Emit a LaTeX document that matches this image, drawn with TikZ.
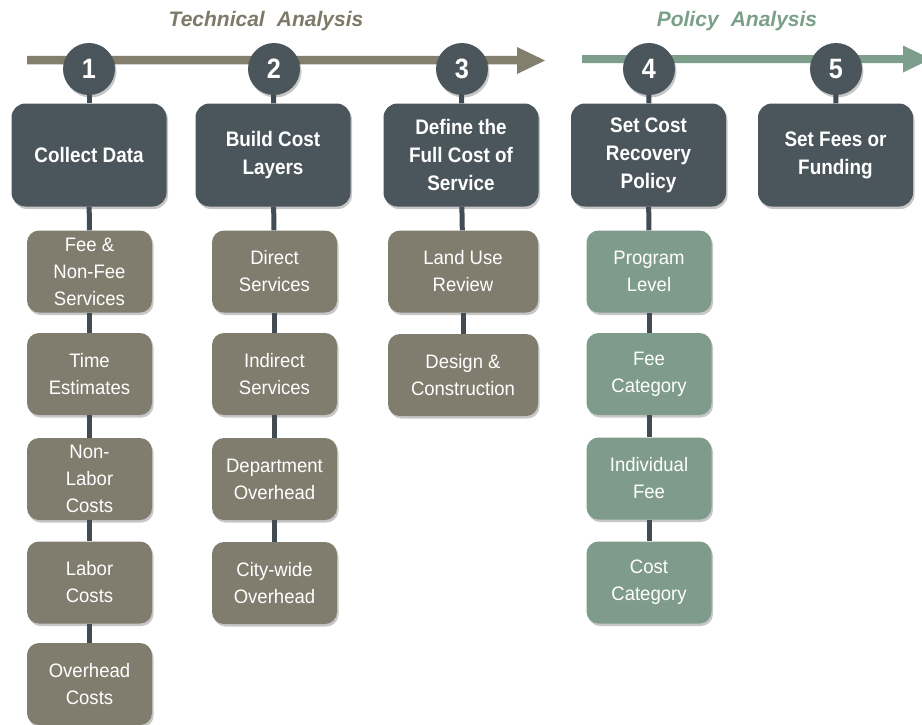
\documentclass[tikz,border=0pt]{standalone}
\usepackage{fontspec}
\setsansfont{Liberation Sans}
\newfontfamily\condsans{Liberation Sans}[FakeStretch=0.9]
\newfontfamily\subsans{Liberation Sans}[FakeStretch=0.95]
\usetikzlibrary{shadows}
\definecolor{dark}{HTML}{4A555C}
\definecolor{subbrown}{HTML}{817D6E}
\definecolor{subgreen}{HTML}{7F9B8B}
\definecolor{arrgray}{HTML}{837E6E}
\definecolor{arrgreen}{HTML}{7D9E8A}
\definecolor{titlebrown}{HTML}{7E7A69}
\definecolor{titlegreen}{HTML}{7AA089}
\definecolor{connc}{HTML}{414C54}
\tikzset{
  softshadow/.style={drop shadow={opacity=0.22, shadow xshift=1.5pt, shadow yshift=-2.5pt, fill=black}},
  mainbox/.style={fill=dark, rounded corners=14pt, minimum width=155pt, minimum height=103pt,
    text=white, align=center, inner sep=0pt, softshadow,
    font=\condsans\bfseries\fontsize{21}{28}\selectfont},
  subbox/.style={rounded corners=12pt, minimum width=125pt, minimum height=82pt,
    text=white, align=center, inner sep=0pt, softshadow,
    font=\subsans\fontsize{19.5}{27}\selectfont},
  brownbox/.style={subbox, fill=subbrown},
  widebrown/.style={brownbox, minimum width=150pt},
  greenbox/.style={subbox, fill=subgreen},
  numcirc/.style={circle, fill=dark, minimum size=52pt, inner sep=0pt, text=white, softshadow,
    font=\condsans\bfseries\fontsize{28}{30}\selectfont},
  conn/.style={draw=connc, line width=5pt},
  titletext/.style={font=\sffamily\bfseries\itshape\fontsize{21}{24}\selectfont, inner sep=0pt}
}
\begin{document}
\begin{tikzpicture}[x=1pt,y=-1pt]
\useasboundingbox (0,0) rectangle (922,724);
\clip (0,0) rectangle (922,724);
\fill[white] (0,0) rectangle (922,724);

% titles
\node[titletext, text=titlebrown] (t1) at (266,21) {Technical\hspace{0.3em} Analysis};
\node[titletext, text=titlegreen] (t2) at (737,21) {Policy\hspace{0.3em} Analysis};

% timeline arrows
\fill[arrgray] (27,55.75) -- (517,55.75) -- (517,47) -- (545,60.5) -- (517,74) -- (517,64.25) -- (27,64.25) -- cycle;
\fill[arrgreen] (582,55) -- (903,55) -- (903,45.5) -- (931,59) -- (903,72.5) -- (903,63) -- (582,63) -- cycle;

% step circles
\node[numcirc] (c1) at (89,69) {1};
\node[numcirc] (c2) at (274,69) {2};
\node[numcirc] (c3) at (462,69) {3};
\node[numcirc] (c4) at (649,69) {4};
\node[numcirc] (c5) at (836,69) {5};

% main boxes
\node[mainbox] (m1) at (89,155) {Collect Data};
\node[mainbox] (m2) at (273,155) {Build Cost\\Layers};
\node[mainbox] (m3) at (461,155) {Define the\\Full Cost of\\Service};
\node[mainbox] (m4) at (648.5,155) {Set Cost\\Recovery\\Policy};
\node[mainbox] (m5) at (835.5,155) {Set Fees or\\Funding};

% column 1
\node[brownbox] (a1) at (89.5,271.5) {Fee \&\\Non-Fee\\Services};
\node[brownbox] (a2) at (89.5,374) {Time\\Estimates};
\node[brownbox] (a3) at (89.5,479) {Non-\\Labor\\Costs};
\node[brownbox] (a4) at (89.5,582.5) {Labor\\Costs};
\node[brownbox] (a5) at (89.5,684) {Overhead\\Costs};

% column 2
\node[brownbox] (b1) at (274.5,271.5) {Direct\\Services};
\node[brownbox] (b2) at (274.5,374) {Indirect\\Services};
\node[brownbox] (b3) at (274.5,479) {Department\\Overhead};
\node[brownbox] (b4) at (274.5,583) {City-wide\\Overhead};

% column 3
\node[widebrown] (d1) at (463,271.5) {Land Use\\Review};
\node[widebrown] (d2) at (463,375) {Design \&\\Construction};

% column 4
\node[greenbox] (e1) at (649,271.5) {Program\\Level};
\node[greenbox] (e2) at (649,374) {Fee\\Category};
\node[greenbox] (e3) at (649,478.5) {Individual\\Fee};
\node[greenbox] (e4) at (649,582.5) {Cost\\Category};

% connectors
\draw[conn] (c1) -- (m1); \draw[conn] (m1) -- (a1); \draw[conn] (a1) -- (a2);
\draw[conn] (a2) -- (a3); \draw[conn] (a3) -- (a4); \draw[conn] (a4) -- (a5);
\draw[conn] (c2) -- (m2); \draw[conn] (m2) -- (b1); \draw[conn] (b1) -- (b2);
\draw[conn] (b2) -- (b3); \draw[conn] (b3) -- (b4);
\draw[conn] (c3) -- (m3); \draw[conn] (m3) -- (d1); \draw[conn] (d1) -- (d2);
\draw[conn] (c4) -- (m4); \draw[conn] (m4) -- (e1); \draw[conn] (e1) -- (e2);
\draw[conn] (e2) -- (e3); \draw[conn] (e3) -- (e4);
\draw[conn] (c5) -- (m5);
\end{tikzpicture}
\end{document}
